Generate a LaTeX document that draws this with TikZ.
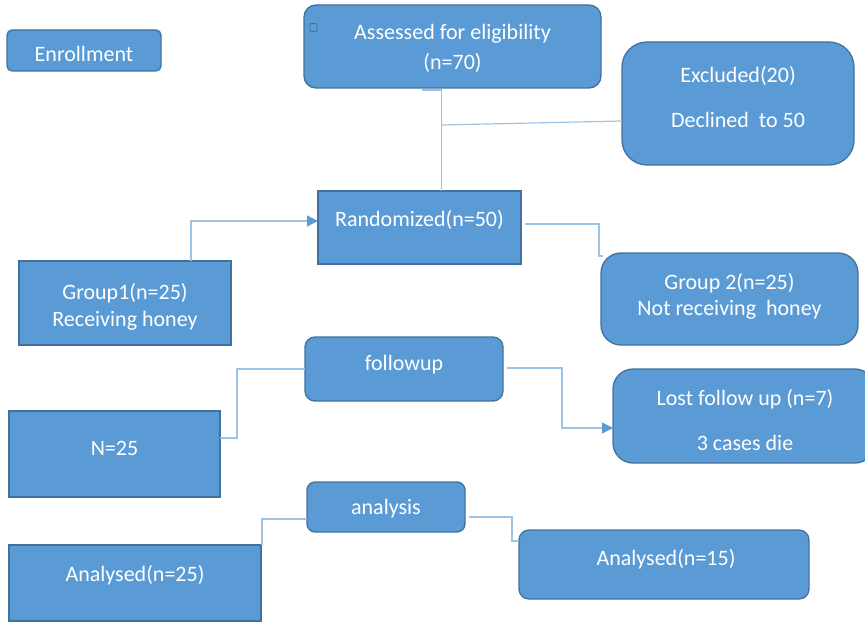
\documentclass[tikz,border=0pt]{standalone}
\usepackage{fontspec}
\setmainfont{Carlito}
\usetikzlibrary{arrows.meta,calc}
\definecolor{boxblue}{HTML}{5B9BD5}
\definecolor{boxedge}{HTML}{41719C}
\definecolor{linkblue}{HTML}{9DC3E6}
\tikzset{
    flow-box/.style = {draw=boxedge, fill=boxblue, line width=1.3pt, rectangle, anchor=north west, inner sep=0pt, outer sep=0pt},
    flow-text/.style = {text=white, font=\fontsize{22}{27}\selectfont, align=center, inner sep=0pt},
    flow-link/.style = {draw=linkblue, line width=1.2pt},
    flow-arrow/.style = {flow-link, -{Triangle[length=11pt,width=11pt,fill=boxblue,color=boxblue]}},
}

\begin{document}
\begin{tikzpicture}[x=1pt, y=-1pt]
\useasboundingbox (0,0) rectangle (865,623);
\node[flow-box, rounded corners=5pt, minimum width=154pt, minimum height=41pt,
    label={[flow-text, yshift=-3.5pt]center:{Enrollment}}] (enroll) at (7,30) {};
\node[flow-box, rounded corners=12pt, minimum width=297pt, minimum height=83pt,
    label={[flow-text, yshift=-2pt]center:{Assessed for eligibility\\[3pt](n=70)}}] (assess) at (304,5) {};
\node[draw=boxedge, line width=0.8pt, rounded corners=1pt, minimum width=7pt, minimum height=8pt, inner sep=0pt] (markbox) at (313.5,27.5) {};
\node[flow-box, rounded corners=25pt, minimum width=232pt, minimum height=123pt,
    label={[flow-text, yshift=6pt]center:{Excluded(20)\\[18pt]Declined\ \ to 50}}] (excl) at (622,42) {};
\node[flow-box, minimum width=203pt, minimum height=73pt,
    label={[flow-text, yshift=7.5pt]center:{Randomized(n=50)}}] (rand) at (318,191) {};
\node[flow-box, minimum width=212pt, minimum height=84pt,
    label={[flow-text, yshift=-4pt]center:{Group1(n=25)\\Receiving honey}}] (g1) at (19,261) {};
\node[flow-box, rounded corners=20pt, minimum width=257pt, minimum height=92pt,
    label={[flow-text, yshift=3pt]center:{Group 2(n=25)\\[-1pt]Not receiving\ \ honey}}] (g2) at (601,253) {};
\node[flow-box, rounded corners=10pt, minimum width=198pt, minimum height=64pt,
    label={[flow-text, yshift=4pt]center:{followup}}] (fu) at (305,337) {};
\node[flow-box, rounded corners=20pt, minimum width=262pt, minimum height=94pt,
    label={[flow-text, xshift=1pt, yshift=-4pt]center:{Lost follow up (n=7)\\[18pt]3 cases die}}] (lost) at (613,369) {};
\node[flow-box, minimum width=211pt, minimum height=86pt,
    label={[flow-text, yshift=6pt]center:{N=25}}] (n25) at (9,411) {};
\node[flow-box, rounded corners=8pt, minimum width=158pt, minimum height=50pt,
    label={[flow-text, yshift=-2pt]center:{analysis}}] (an) at (307,482) {};
\node[flow-box, minimum width=252pt, minimum height=76pt,
    label={[flow-text, xshift=0pt, yshift=8pt]center:{Analysed(n=25)}}] (a25) at (9,545) {};
\node[flow-box, rounded corners=10pt, minimum width=290pt, minimum height=69pt,
    label={[flow-text, xshift=2pt, yshift=5.5pt]center:{Analysed(n=15)}}] (a15) at (519,530) {};

% connectors
\coordinate (split) at (442,125);
\draw[flow-link] ($(assess.south)+(-31,2)$) -| ($(rand.north)+(22,0)$);
\draw[flow-link] (split) -- ($(excl.west)+(0,17.5)$);
\draw[flow-arrow] ($(g1.north)+(66,0)$) |- ($(rand.west)+(0,-6.5)$);
\draw[flow-link] ($(rand.east)+(4,-3.5)$) -| ($(g2.north west)+(-2,3)$) -- ++(4,0);
\draw[flow-link] (fu.west) -| ($(n25.east)+(17,-16)$) -- ($(n25.east)+(0,-16)$);
\draw[flow-arrow] ($(fu.east)+(4,-1)$) -| ($(lost.west)+(-51,12)$) -- ($(lost.west)+(0,12)$);
\draw[flow-link] ($(an.west)+(0,12)$) -| ($(a25.north east)+(1,0)$);
\draw[flow-link] ($(an.east)+(4,10)$) -| ($(a15.west)+(-7,-23.5)$) -- ($(a15.west)+(0,-23.5)$);
\end{tikzpicture}
\end{document}
